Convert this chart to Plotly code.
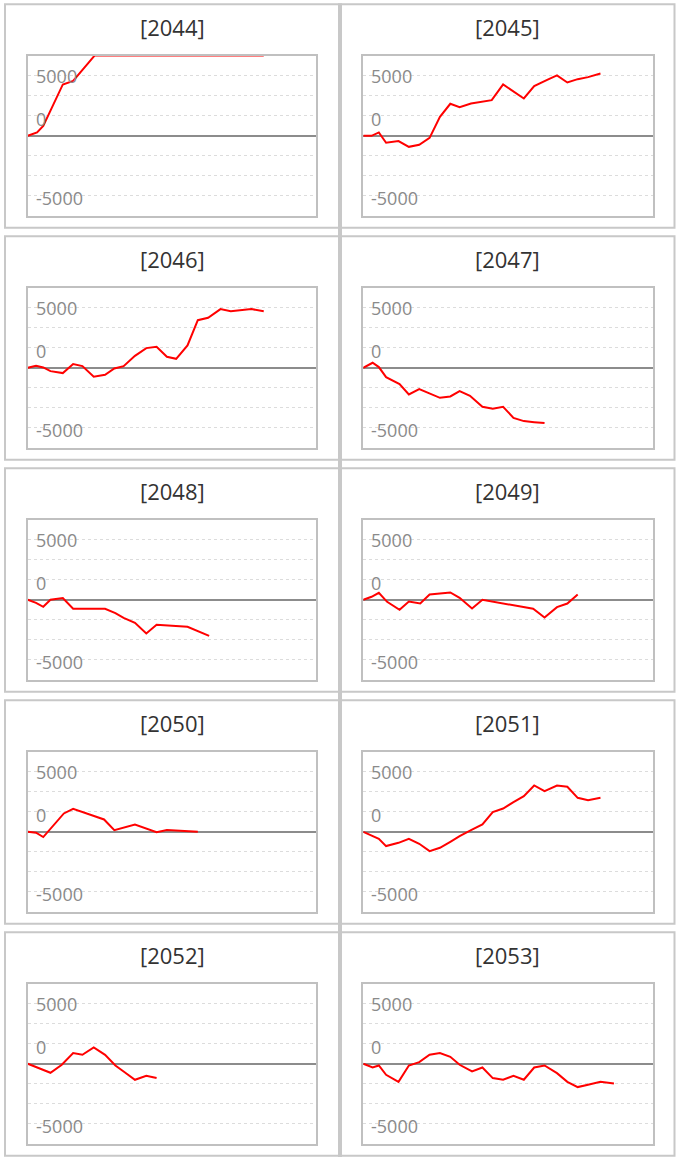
import plotly.graph_objects as go

# ---------------- data ----------------
YEARS = ["2044", "2045", "2046", "2047", "2048", "2049", "2050", "2051", "2052", "2053"]

X_2044 = [0, 0.9, 1.5, 2.2, 3.4, 4.4, 6.5, 22.9]
Y_2044 = [0, 280, 830, 2140, 4280, 4580, 6700, 6700]

X_2045 = [0, 0.8, 1.5, 2.2, 3.4, 4.4, 5.4, 6.4, 7.4, 8.4, 9.3, 10.4, 12.4, 13.5, 15.5, 16.5, 17.7, 18.7, 19.7, 20.7, 21.7, 22.9]
Y_2045 = [0, 0, 280, -580, -440, -920, -750, -170, 1580, 2670, 2390, 2690, 2970, 4280, 3110, 4140, 4640, 5030, 4440, 4720, 4890, 5190]

X_2046 = [0, 0.8, 1.5, 2.2, 3.4, 4.4, 5.3, 6.4, 7.5, 8.4, 9.3, 10.4, 11.5, 12.5, 13.5, 14.4, 15.5, 16.5, 17.5, 18.7, 19.7, 21.7, 22.9]
Y_2046 = [0, 170, 30, -280, -440, 310, 140, -750, -580, -60, 140, 1000, 1640, 1750, 920, 750, 1860, 3970, 4170, 4890, 4720, 4890, 4720]

X_2047 = [0, 0.9, 1.5, 2.2, 3.5, 4.4, 5.4, 6.4, 7.4, 8.4, 9.3, 10.3, 11.5, 12.5, 13.5, 14.5, 15.5, 16.5, 17.5]
Y_2047 = [0, 420, 60, -780, -1360, -2220, -1780, -2140, -2500, -2390, -1940, -2330, -3250, -3420, -3250, -4170, -4440, -4530, -4610]

X_2048 = [0, 0.8, 1.5, 2.2, 3.4, 4.4, 7.5, 8.5, 9.3, 10.4, 11.5, 12.5, 15.5, 16.6, 17.6]
Y_2048 = [0, -250, -580, 0, 140, -750, -750, -1110, -1500, -1920, -2810, -2080, -2250, -2670, -3000]

X_2049 = [0, 0.8, 1.5, 2.3, 3.5, 4.4, 5.5, 6.4, 8.4, 9.3, 10.5, 11.5, 16.4, 17.5, 18.7, 19.7, 20.7]
Y_2049 = [0, 250, 580, -170, -830, -140, -310, 440, 610, 170, -720, 0, -750, -1470, -610, -310, 440]

X_2050 = [0, 0.8, 1.5, 3.5, 4.4, 7.4, 8.4, 10.4, 12.5, 13.5, 16.5]
Y_2050 = [0, -80, -440, 1530, 1920, 1030, 140, 610, -30, 140, 0]

X_2051 = [0, 0.8, 1.5, 2.2, 3.4, 4.4, 5.4, 6.4, 7.4, 8.4, 9.3, 10.4, 11.5, 12.5, 13.5, 14.5, 15.5, 16.5, 17.5, 18.7, 19.7, 20.7, 21.7, 22.9]
Y_2051 = [0, -330, -580, -1190, -920, -580, -1000, -1610, -1330, -830, -360, 140, 610, 1640, 1940, 2470, 2970, 3860, 3390, 3860, 3750, 2830, 2640, 2830]

X_2052 = [0, 2.2, 3.3, 4.4, 5.3, 6.4, 7.5, 8.5, 9.3, 10.4, 11.5, 12.5]
Y_2052 = [0, -750, -80, 890, 750, 1360, 750, -140, -640, -1330, -1000, -1190]

X_2053 = [0, 0.9, 1.5, 2.2, 3.4, 4.4, 5.4, 6.4, 7.4, 8.4, 9.3, 10.5, 11.5, 12.5, 13.5, 14.5, 15.5, 16.5, 17.5, 18.7, 19.7, 20.7, 21.7, 22.9, 24.2]
Y_2053 = [0, -310, -140, -920, -1500, -140, 140, 750, 890, 580, -80, -640, -310, -1190, -1330, -1000, -1330, -310, -140, -780, -1500, -1940, -1750, -1500, -1640]

X_SERIES = [X_2044, X_2045, X_2046, X_2047, X_2048, X_2049, X_2050, X_2051, X_2052, X_2053]
Y_SERIES = [Y_2044, Y_2045, Y_2046, Y_2047, Y_2048, Y_2049, Y_2050, Y_2051, Y_2052, Y_2053]

TICK_VALUES = [5000, 0, -5000]
TICK_TEXT = ["5000", "0", "-5000"]
GRID_STEP = 5000 / 3
X_RANGE = [0, 28]
Y_RANGE = [-6667, 6667]

# ---------------- layout geometry (pixels) ----------------
W, H = 680, 1159
ROW_PITCH = 232
PANEL_X = [(5, 339), (341, 674.5)]
PANEL_Y = (4.2, 227.7)
BOX_X = [(27.8, 316.3), (363.3, 653.3)]
BOX_Y = (55.8, 215.8)
TITLE_Y = 26.7
LABEL_SHIFT = {5000: 0, 0: 17, -5000: -2}


def fx(px):
    return px / W


def fy(py):
    return 1 - py / H


fig = go.Figure()
shapes = []
annotations = []

for i, year in enumerate(YEARS):
    r, c = divmod(i, 2)
    off = r * ROW_PITCH
    n = i + 1
    xa = "x" if n == 1 else f"x{n}"
    ya = "y" if n == 1 else f"y{n}"

    fig.add_trace(go.Scatter(
        x=X_SERIES[i], y=Y_SERIES[i], mode="lines",
        line=dict(color="#ff0000", width=2),
        xaxis=xa, yaxis=ya, showlegend=False, hoverinfo="skip",
    ))

    fig.layout[f"xaxis{n}"] = dict(
        domain=[fx(BOX_X[c][0]), fx(BOX_X[c][1])],
        range=X_RANGE, anchor=ya,
        showgrid=False, zeroline=False, showticklabels=False, ticks="",
        showline=True, mirror=True, linecolor="#c0c0c0", linewidth=2,
        fixedrange=True,
    )
    fig.layout[f"yaxis{n}"] = dict(
        domain=[fy(BOX_Y[1] + off), fy(BOX_Y[0] + off)],
        range=Y_RANGE, anchor=xa,
        tickmode="linear", tick0=0, dtick=GRID_STEP,
        showgrid=True, gridcolor="#dcdcdc", gridwidth=1, griddash="dot",
        zeroline=True, zerolinecolor="#8c8c8c", zerolinewidth=2,
        showticklabels=False, ticks="",
        showline=True, mirror=True, linecolor="#c0c0c0", linewidth=2,
        fixedrange=True,
    )

    # panel frame
    shapes.append(dict(
        type="rect", xref="paper", yref="paper",
        x0=fx(PANEL_X[c][0]), x1=fx(PANEL_X[c][1]),
        y0=fy(PANEL_Y[1] + off), y1=fy(PANEL_Y[0] + off),
        line=dict(color="#c8c8c8", width=2), layer="below",
    ))

    # panel title
    annotations.append(dict(
        text=f"[{year}]", xref="paper", yref="paper",
        x=fx((PANEL_X[c][0] + PANEL_X[c][1]) / 2), y=fy(TITLE_Y + off),
        xanchor="center", yanchor="middle", showarrow=False,
        font=dict(family="Open Sans", size=22, color="#333333"),
    ))

    # y tick labels (inside the plot, left)
    for v, t in zip(TICK_VALUES, TICK_TEXT):
        annotations.append(dict(
            text=t, xref=f"{xa} domain", yref=ya, x=0, y=v,
            xanchor="left", yanchor="middle", xshift=6, yshift=LABEL_SHIFT[v],
            showarrow=False,
            font=dict(family="Open Sans", size=18, color="#8a8a8a"),
        ))

# central vertical separator
shapes.append(dict(
    type="line", xref="paper", yref="paper",
    x0=fx(340), x1=fx(340), y0=fy(1157), y1=fy(3.2),
    line=dict(color="#c8c8c8", width=4), layer="below",
))

fig.update_layout(
    width=W, height=H,
    margin=dict(l=0, r=0, t=0, b=0),
    paper_bgcolor="white", plot_bgcolor="white",
    shapes=shapes, annotations=annotations,
    showlegend=False,
)

fig.write_html(
    "out.html",
    config={"displayModeBar": False},
    post_script="document.body.style.margin='0';document.body.style.padding='0';",
)
